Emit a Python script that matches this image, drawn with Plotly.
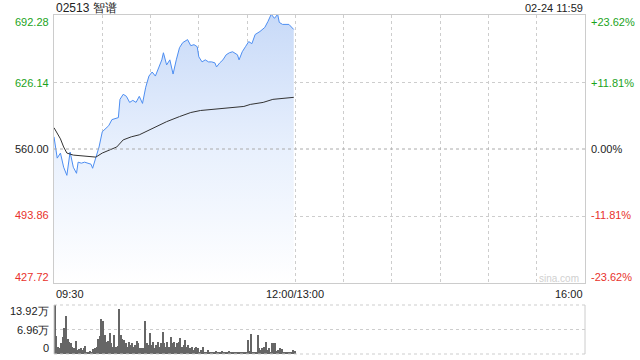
import plotly.graph_objects as go

# ---------------- data ----------------
title_text = "02513 智谱"
stamp_text = "02-24 11:59"
prev_close = 560.00
y_ticks = [692.28, 626.14, 560.00, 493.86, 427.72]
pct_ticks = ["+23.62%", "+11.81%", "0.00%", "-11.81%", "-23.62%"]
vol_ticks = [13.92, 6.96, 0]
vol_tick_labels = ["13.92万", "6.96万", "0"]
x_labels = ["09:30", "12:00/13:00", "16:00"]

# price (minute index from 09:30, price)
price_min = [0, 2, 4, 6, 8, 10, 12, 14, 15, 17, 19, 21, 23, 24, 26, 28, 30, 32, 34, 36,
             38, 40, 41, 43, 45, 47, 49, 51, 53, 55, 57, 59, 61, 63, 65, 67, 68, 70, 72, 74,
             76, 78, 80, 83, 85, 87, 89, 90, 92, 94, 96, 98, 100, 101, 103, 105, 107, 109, 111, 114,
             115, 117, 119, 121, 123, 125, 128, 131, 133, 135, 137, 139, 140, 142, 146, 148, 149]
price_val = [572, 551, 556, 542, 534, 557, 542, 536, 547, 546, 547, 546, 545, 541, 552, 562, 577, 580, 583, 589,
             590, 591, 609, 614, 612, 606, 608, 606, 612, 605, 621, 632, 636, 632, 640, 648, 655, 643, 648, 634,
             648, 660, 665, 668, 662, 663, 661, 651, 646, 648, 646, 646, 645, 641, 645, 648, 653, 655, 656, 653,
             648, 656, 661, 666, 664, 673, 676, 680, 686, 693, 689, 693, 685, 683, 683, 680, 678]

# average price line
avg_min = [0, 2, 4, 6, 8, 12, 18, 26, 30, 34, 39, 43, 48, 53, 58, 62, 70, 78, 85, 91,
           103, 118, 122, 130, 136, 142, 149]
avg_val = [581, 576, 570, 562, 556, 554, 553, 552, 556, 559, 562, 569, 572, 574, 578, 581, 587, 592, 596, 598,
           600, 602, 604, 606, 609, 610, 611]

# volume per minute (万)
volume = [13.92, 5.1, 2.1, 1.6, 3.2, 4.9, 7.3, 10.8, 4.2, 3.5, 3.0, 2.1, 1.6, 3.7, 1.1, 1.4, 1.6, 1.1, 1.6, 2.3,
          0.7, 0.4, 0.9, 0.7, 1.3, 1.6, 2.1, 4.2, 5.1, 9.9, 9.3, 5.4, 3.5, 3.8, 5.9, 3.0, 2.1, 5.4, 2.1, 2.3,
          12.9, 5.4, 4.2, 4.0, 3.2, 2.1, 3.5, 2.6, 3.0, 2.1, 2.6, 3.7, 3.2, 1.6, 1.6, 1.6, 9.4, 3.0, 2.6, 5.9,
          2.6, 3.5, 1.6, 2.6, 3.5, 2.1, 3.0, 6.3, 3.0, 2.1, 3.5, 2.1, 4.9, 3.0, 3.5, 2.1, 3.0, 3.5, 4.5, 2.1,
          2.6, 4.0, 2.1, 2.6, 1.6, 2.1, 1.1, 1.6, 2.1, 1.6, 0.7, 1.1, 2.1, 0.7, 0.4, 1.1, 0.4, 0.7, 0.4, 0.4,
          0.9, 0.4, 0.4, 0.7, 0.9, 0.4, 0.7, 0.4, 0.8, 0.4, 0.7, 0.4, 0.5, 0.6, 0.4, 0.7, 0.5, 0.4, 0.6, 0.4,
          4.0, 0.8, 5.6, 0.4, 0.7, 0.4, 5.4, 1.6, 1.1, 1.6, 2.1, 3.5, 1.1, 1.8, 0.7, 3.0, 3.2, 3.2, 0.8, 1.1,
          1.6, 1.4, 0.7, 0.4, 0.4, 0.7, 0.4, 0.6, 1.1, 0.8]
vol_min = list(range(len(volume)))

SESSION = 330  # minutes from 09:30 to 16:00 (lunch removed)

# ---------------- figure ----------------
GREEN = "#1ba31b"
RED = "#e8322c"
GRID = "#cdcdcd"
BORDER = "#cccccc"

fig = go.Figure()

# baseline for fill
fig.add_trace(go.Scatter(x=[price_min[0], price_min[-1]], y=[y_ticks[-1], y_ticks[-1]],
                         mode="lines", line=dict(width=0, color="rgba(0,0,0,0)"),
                         hoverinfo="skip", showlegend=False, xaxis="x", yaxis="y"))
fig.add_trace(go.Scatter(x=price_min, y=price_val, mode="lines",
                         line=dict(color="#4d8ef2", width=1),
                         fill="tonexty",
                         fillgradient=dict(type="vertical",
                                           colorscale=[[0, "rgba(255,255,255,1)"],
                                                       [0.5, "rgba(232,240,253,1)"],
                                                       [1, "rgba(200,218,248,1)"]],
                                           start=y_ticks[-1], stop=y_ticks[0]),
                         showlegend=False, xaxis="x", yaxis="y"))
fig.add_trace(go.Scatter(x=avg_min, y=avg_val, mode="lines",
                         line=dict(color="#333333", width=1),
                         showlegend=False, xaxis="x", yaxis="y"))
fig.add_trace(go.Bar(x=vol_min, y=volume, marker=dict(color="#666666", line=dict(width=0)),
                     width=0.62, showlegend=False, xaxis="x2", yaxis="y2"))

W, H = 640, 360
L, R = 54, 585
MT, MB = 15, 283
VT, VB = 305, 354

def px(x):
    return x / W

def py(y):
    return 1 - y / H

grid_x = list(range(30, SESSION, 30))

fig.update_layout(
    width=W, height=H, margin=dict(l=0, r=0, t=0, b=0),
    paper_bgcolor="white", plot_bgcolor="white",
    font=dict(family="Liberation Sans, Arial, sans-serif", size=11, color="#333333"),
    bargap=0,
    xaxis=dict(domain=[px(L), px(R)], range=[0, SESSION], showticklabels=False,
               tickvals=grid_x, ticks="", showgrid=True, gridcolor=GRID, griddash="dot", gridwidth=1,
               zeroline=False, showline=True, mirror=True, linecolor=BORDER, linewidth=1, anchor="y"),
    yaxis=dict(domain=[py(MB), py(MT)], range=[y_ticks[-1], y_ticks[0]], showticklabels=False,
               tickvals=[y_ticks[1], y_ticks[3]], showgrid=True, gridcolor=GRID, griddash="dot",
               zeroline=False, showline=True, mirror=True, linecolor=BORDER, linewidth=1, anchor="x"),
    xaxis2=dict(domain=[px(L), px(R)], range=[-0.5, SESSION - 0.5], showticklabels=False,
                showgrid=False, zeroline=False, showline=False, anchor="y2"),
    yaxis2=dict(domain=[py(VB), py(VT)], range=[0, vol_ticks[0]], showticklabels=False,
                tickvals=[vol_ticks[1]], showgrid=True, gridcolor=GRID, griddash="dot",
                zeroline=False, showline=False, anchor="x2"),
)

shapes = []
# previous-close line
shapes.append(dict(type="line", xref="x", yref="y", x0=0, x1=SESSION, y0=prev_close, y1=prev_close,
                   line=dict(color="#aaaaaa", width=1, dash="dot")))
# volume panel frame: dotted top/bottom, solid sides
for yv in [VT, VB]:
    shapes.append(dict(type="line", xref="paper", yref="paper", x0=px(L), x1=px(R), y0=py(yv), y1=py(yv),
                       line=dict(color=GRID, width=1, dash="dot")))
for xv in [L, R]:
    shapes.append(dict(type="line", xref="paper", yref="paper", x0=px(xv), x1=px(xv), y0=py(VB), y1=py(VT),
                       line=dict(color=BORDER, width=1)))
fig.update_layout(shapes=shapes)

ann = []
ann.append(dict(text=title_text, x=px(L), y=py(8), xref="paper", yref="paper", xanchor="left",
                yanchor="middle", showarrow=False, font=dict(size=12, color="#222222")))
ann.append(dict(text=stamp_text, x=px(R), y=py(8), xref="paper", yref="paper", xanchor="right",
                yanchor="middle", showarrow=False, font=dict(size=11, color="#222222")))
colors = [GREEN, GREEN, "#222222", RED, RED]
label_y = [22, 83, 149, 215, 277]
for v, p, c, ly in zip(y_ticks, pct_ticks, colors, label_y):
    ann.append(dict(text=f"{v:.2f}", x=px(L - 3), y=py(ly), xref="paper", yref="paper", xanchor="right",
                    yanchor="middle", showarrow=False, font=dict(size=11, color=c)))
    ann.append(dict(text=p, x=px(R + 4), y=py(ly), xref="paper", yref="paper", xanchor="left",
                    yanchor="middle", showarrow=False, font=dict(size=11, color=c)))
# x labels
ann.append(dict(text=x_labels[0], x=px(L), y=py(294), xref="paper", yref="paper", xanchor="left",
                yanchor="middle", showarrow=False, font=dict(size=11, color="#222222")))
ann.append(dict(text=x_labels[1], x=150, y=py(294), xref="x", yref="paper", xanchor="center",
                yanchor="middle", showarrow=False, font=dict(size=11, color="#222222")))
ann.append(dict(text=x_labels[2], x=px(R), y=py(294), xref="paper", yref="paper", xanchor="right",
                yanchor="middle", showarrow=False, font=dict(size=11, color="#222222")))
# volume labels
for t, ly in zip(vol_tick_labels, [311, 330, 348]):
    ann.append(dict(text=t, x=px(L - 3), y=py(ly), xref="paper", yref="paper", xanchor="right",
                    yanchor="middle", showarrow=False, font=dict(size=11, color="#222222")))
# watermark
ann.append(dict(text="sina.com", x=px(R - 4), y=py(278), xref="paper", yref="paper", xanchor="right",
                yanchor="middle", showarrow=False, font=dict(size=10, color="#d0d0d0")))
fig.update_layout(annotations=ann)

fig.write_html("out.html")
